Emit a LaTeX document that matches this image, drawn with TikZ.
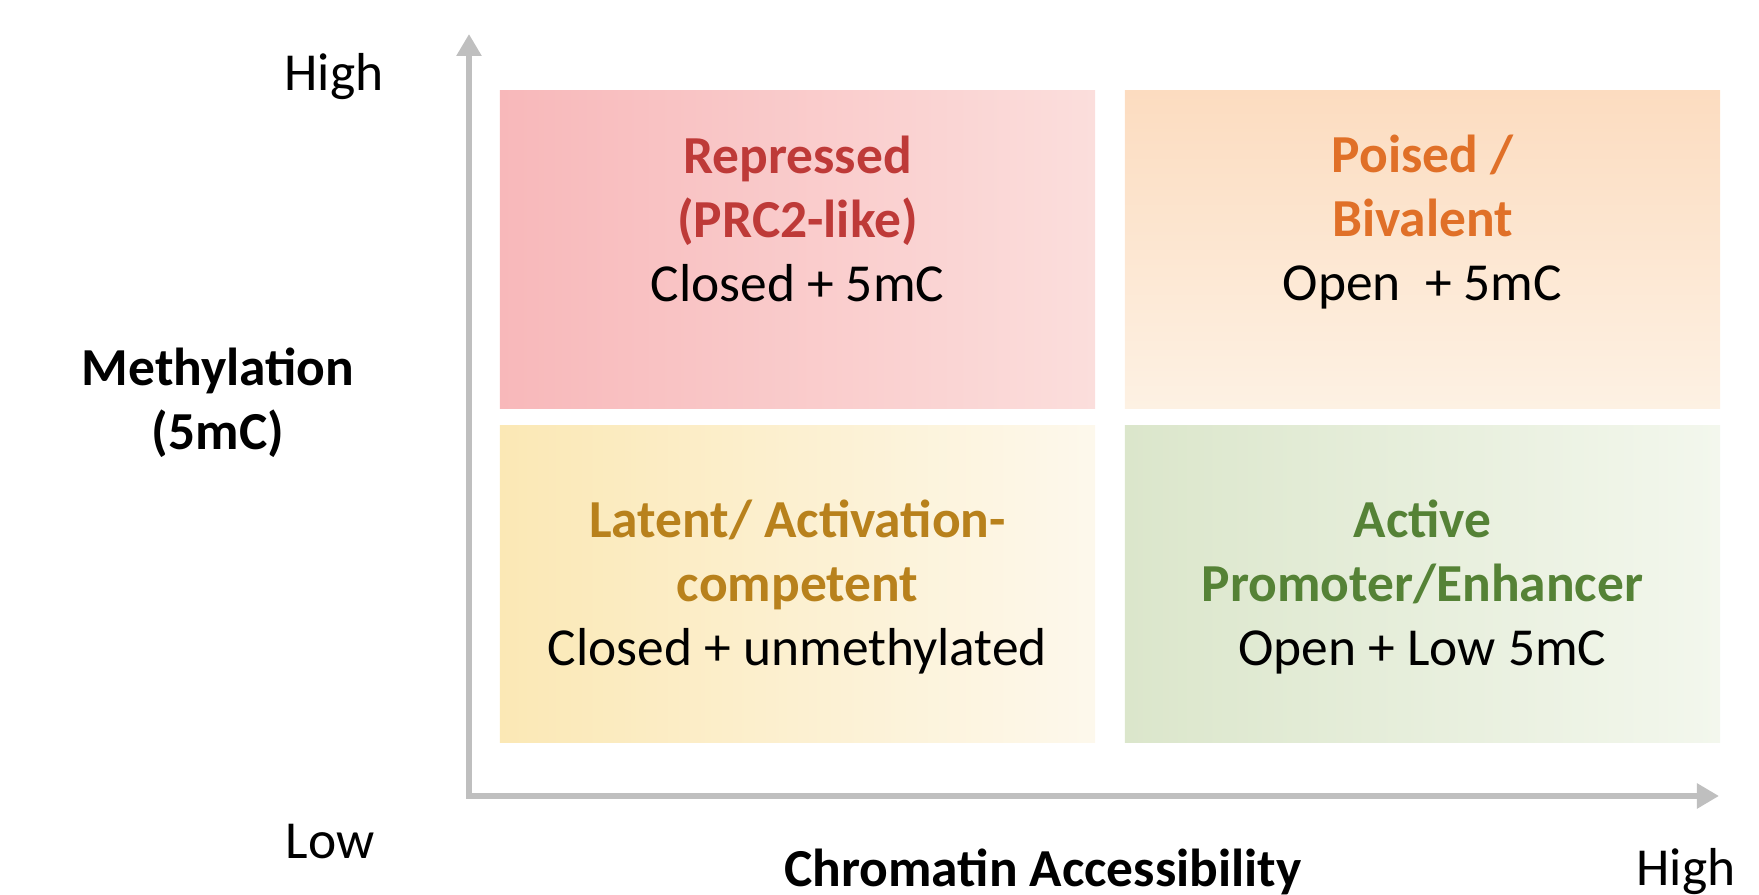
\documentclass[tikz,border=0pt]{standalone}
\usepackage{fontspec}
\setmainfont{Carlito}
\usepackage{tikz}
\usetikzlibrary{positioning,arrows.meta,shadings}

\definecolor{axisgray}{HTML}{BFBFBF}
\definecolor{repred}{HTML}{BE3A38}
\definecolor{poisorange}{HTML}{E07028}
\definecolor{latgold}{HTML}{B8811C}
\definecolor{actgreen}{HTML}{558236}

\begin{document}
\begin{tikzpicture}[
  x=0.01cm, y=-0.01cm,
  every node/.style={font=\fontsize{15.2}{18.2}\selectfont},
  quad/.style={inner sep=0pt,minimum width=5.95cm,minimum height=3.17cm},
  state/.style={align=center,inner sep=0pt},
  axislabel/.style={inner sep=0pt,font=\fontsize{15.2}{18.2}\selectfont},
  axis/.style={draw=axisgray,line width=1.7pt,
    {Triangle[width=0.24cm,length=0.22cm]}-{Triangle[width=0.24cm,length=0.22cm]}}
]
\useasboundingbox (0,0) rectangle (1759,895);

% quadrants
\node[quad,left color={rgb,255:red,248;green,184;blue,186},right color={rgb,255:red,251;green,222;blue,220}] (rep) at (797.5,249.5) {};
\node[quad,top color={rgb,255:red,252;green,220;blue,192},bottom color={rgb,255:red,253;green,241;blue,227}] (pois) at (1422.5,249.5) {};
\node[quad,left color={rgb,255:red,251;green,232;blue,181},right color={rgb,255:red,253;green,248;blue,236}] (lat) at (797.5,584) {};
\node[quad,left color={rgb,255:red,219;green,230;blue,203},right color={rgb,255:red,243;green,247;blue,237}] (act) at (1422.5,584) {};

\node[state] (reptxt) at ([yshift=0.31cm]rep.center)
  {\textbf{\color{repred}Repressed}\\ \textbf{\color{repred}(PRC2-like)}\\ Closed + 5mC};
\node[state] (poistxt) at ([yshift=0.27cm]pois.center)
  {\textbf{\color{poisorange}Poised /}\\ \textbf{\color{poisorange}Bivalent}\\ Open~~+ 5mC};
\node[state] (lattxt) at ([yshift=-0.035cm]lat.center)
  {\textbf{\color{latgold}Latent/ Activation-}\\ \textbf{\color{latgold}competent}\\ Closed + unmethylated};
\node[state] (acttxt) at ([yshift=-0.035cm]act.center)
  {\textbf{\color{actgreen}Active}\\ \textbf{\color{actgreen}Promoter/Enhancer}\\ Open + Low 5mC};

% axes
\coordinate (origin) at (469,796);
\coordinate (ytip) at (469,34);
\coordinate (xtip) at (1719,796);
\draw[axis] (ytip) -- (origin) -- (xtip);

\node[axislabel] (yhigh) at (334,77) {High};
\node[axislabel,align=center] (ylabel) at (218,403) {\textbf{Methylation}\\ \textbf{(5mC)}};
\node[axislabel] (ylow) at (330,842) {Low};
\node[axislabel] (xlabel) at (1043,872) {\textbf{Chromatin Accessibility}};
\node[axislabel] (xhigh) at (1686,872) {High};

\end{tikzpicture}
\end{document}
